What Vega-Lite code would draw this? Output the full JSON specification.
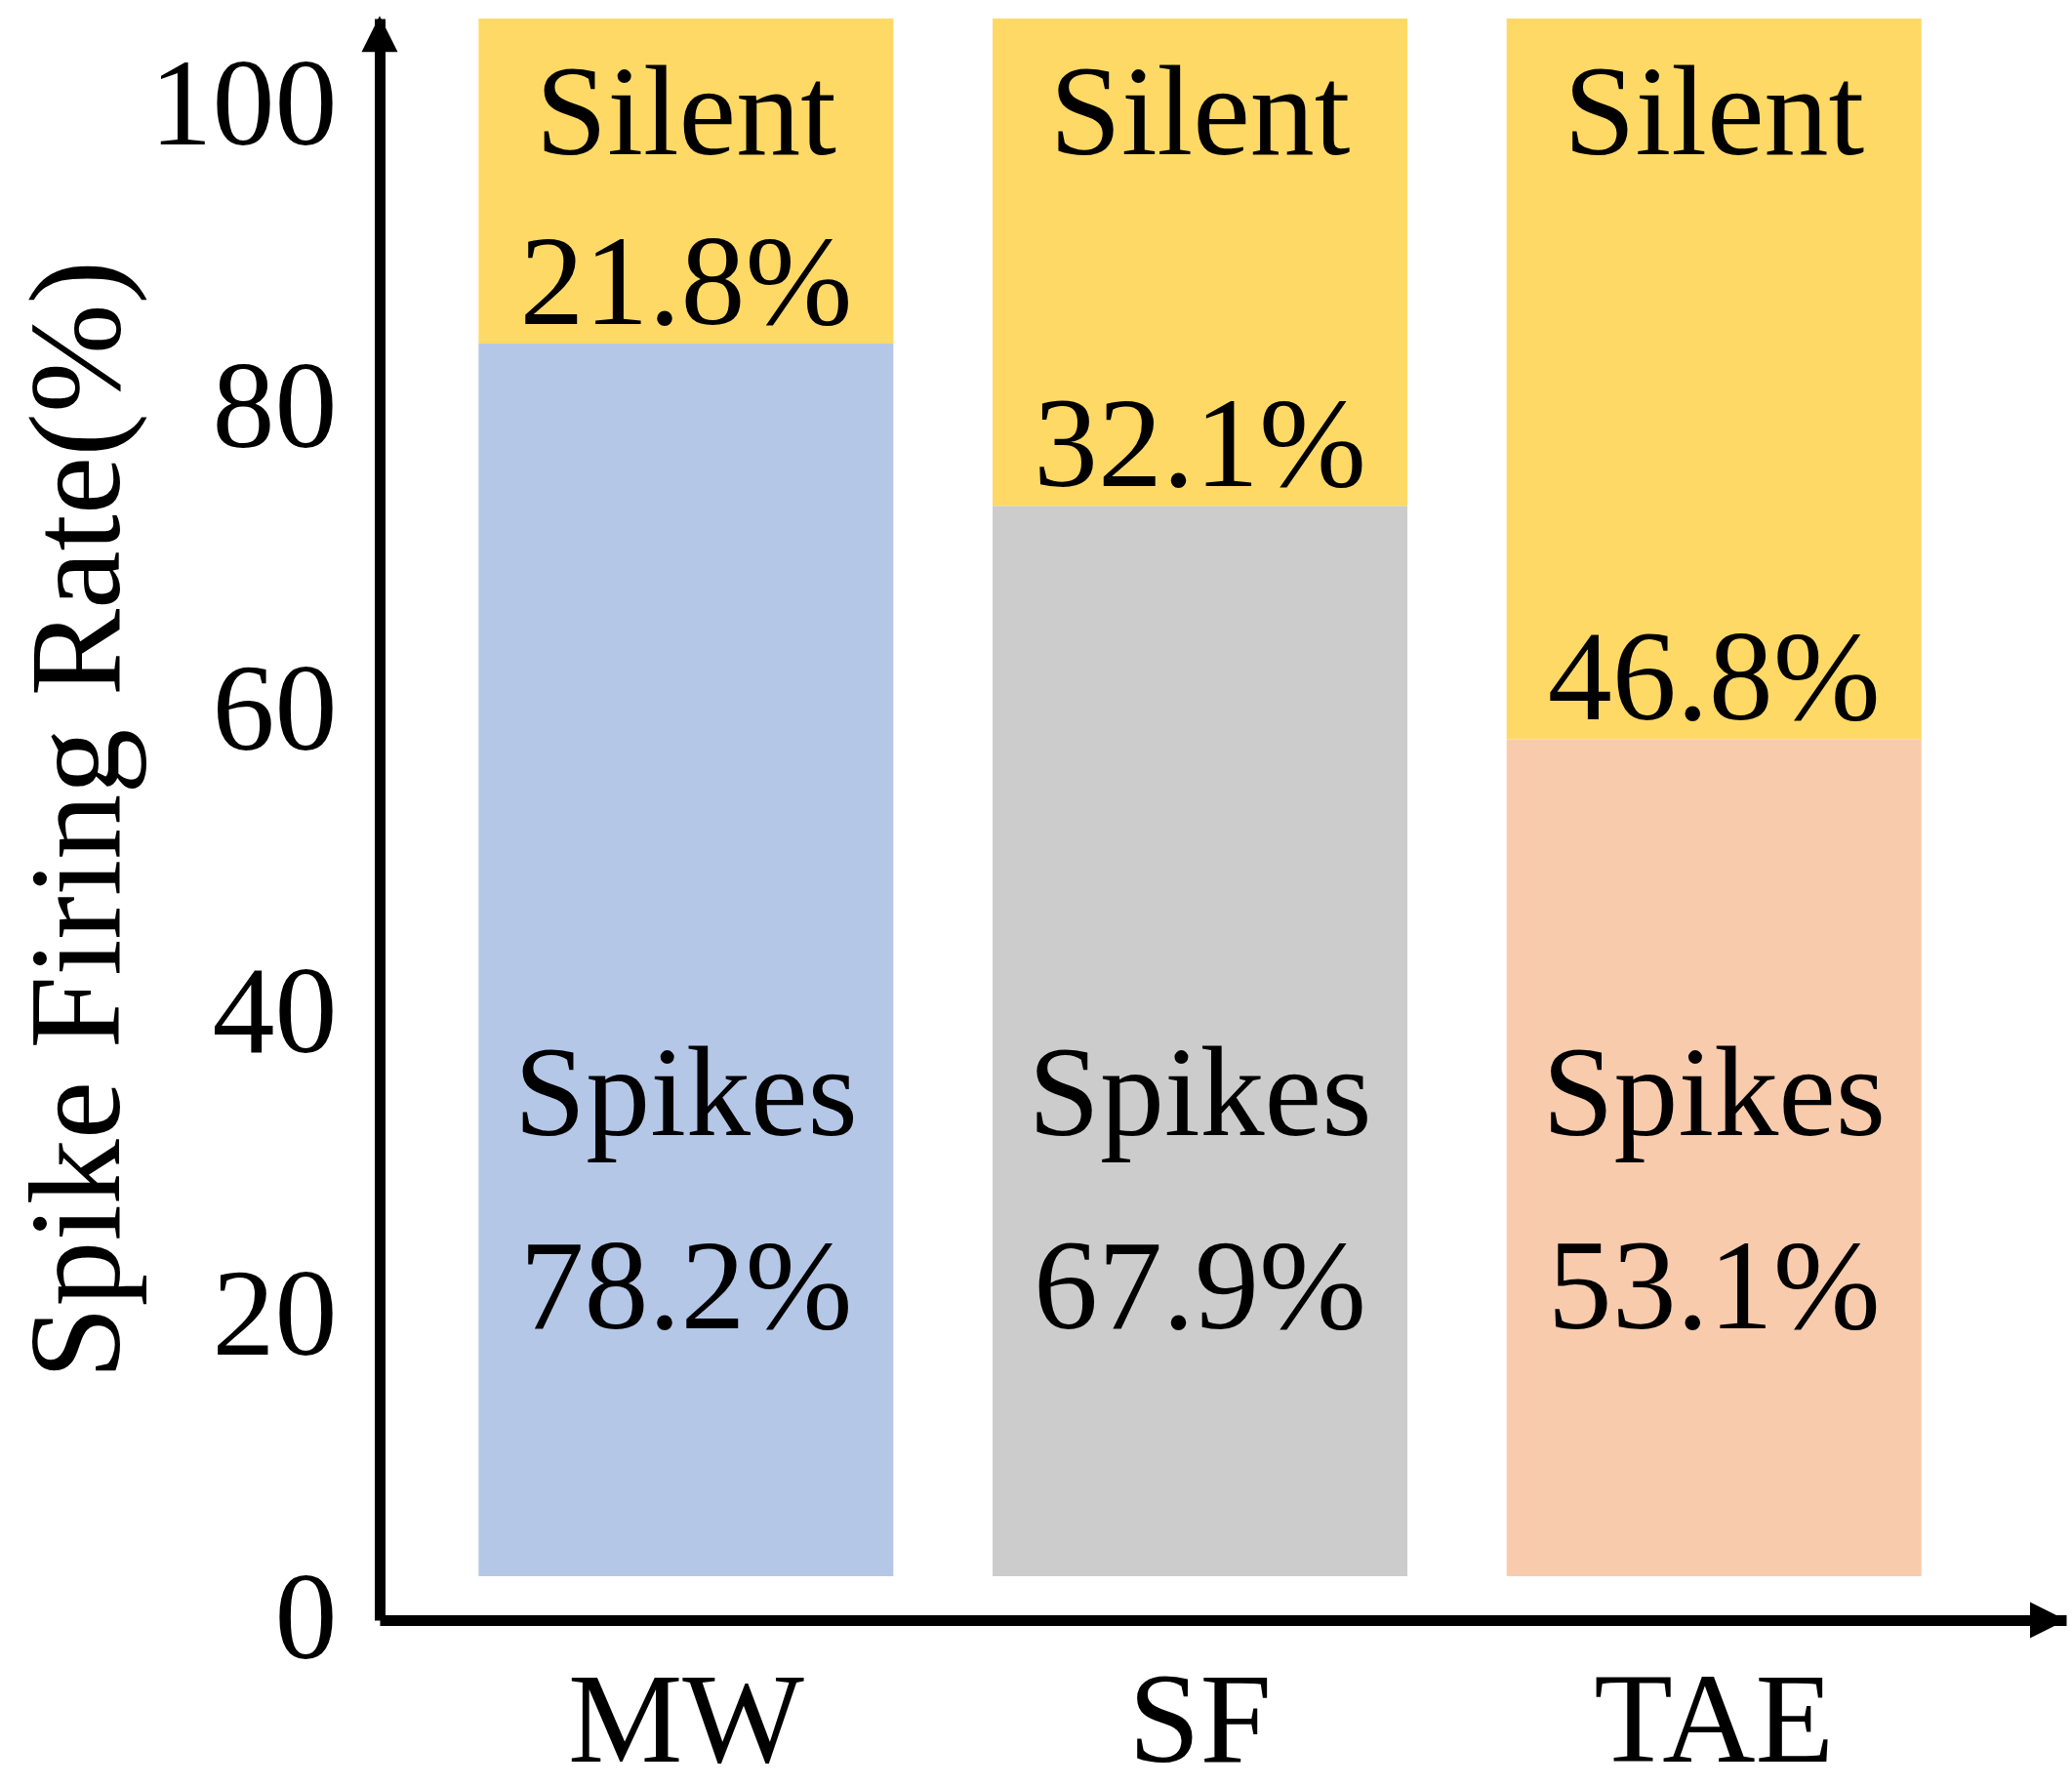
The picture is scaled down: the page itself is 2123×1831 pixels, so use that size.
{
  "$schema": "https://vega.github.io/schema/vega-lite/v6.json",
  "description": "Share of spiking vs silent neurons per method (stacked to 100%).",
  "width": 1728,
  "height": 1641,
  "autosize": {"type": "none"},
  "padding": {"left": 389, "top": 19, "right": 6, "bottom": 171},
  "background": "white",
  "config": {
    "view": {"stroke": null},
    "font": "Liberation Serif",
    "text": {"font": "Liberation Serif", "color": "black"}
  },
  "datasets": {
    "rates": [
      {"method": "MW", "part": "Spikes", "rate": 78.2},
      {"method": "MW", "part": "Silent", "rate": 21.8},
      {"method": "SF", "part": "Spikes", "rate": 67.9},
      {"method": "SF", "part": "Silent", "rate": 32.1},
      {"method": "TAE", "part": "Spikes", "rate": 53.1},
      {"method": "TAE", "part": "Silent", "rate": 46.8}
    ],
    "arrows": [{"axis": "y"}, {"axis": "x"}]
  },
  "layer": [
    {
      "data": {"name": "rates"},
      "transform": [
        {"stack": "rate", "groupby": ["method"], "sort": [{"field": "part", "order": "descending"}], "as": ["low", "high"]},
        {"calculate": "format(datum.rate, '.1f') + '%'", "as": "label"}
      ],
      "encoding": {
        "x": {
          "field": "method",
          "type": "nominal",
          "sort": ["MW", "SF", "TAE"],
          "scale": {"paddingInner": 0.193, "paddingOuter": 0.237, "align": 0.406},
          "axis": {
            "orient": "bottom",
            "title": null,
            "grid": false,
            "domain": true,
            "domainColor": "black",
            "domainWidth": 11,
            "ticks": false,
            "tickSize": 0,
            "labelAngle": 0,
            "labelFont": "Liberation Serif",
            "labelFontSize": 132,
            "labelColor": "black",
            "labelLimit": 600,
            "labelBaseline": "alphabetic",
            "labelPadding": 144
          }
        }
      },
      "layer": [
        {
          "mark": {"type": "bar", "clip": true},
          "encoding": {
            "y": {"field": "low", "type": "quantitative", "scale": {"domain": [-2.79, 98.82], "nice": false, "zero": false}, "axis": null},
            "y2": {"field": "high"},
            "color": {
              "condition": {"test": "datum.part === 'Silent'", "value": "#FFD966"},
              "field": "method",
              "type": "nominal",
              "scale": {"domain": ["MW", "SF", "TAE"], "range": ["#B4C7E7", "#CCCCCC", "#F8CBAD"]},
              "legend": null
            }
          }
        },
        {
          "transform": [{"filter": "datum.part === 'Silent'"}],
          "mark": {"type": "text", "baseline": "alphabetic", "fontSize": 132},
          "encoding": {
            "y": {"datum": 90.2, "type": "quantitative", "axis": null},
            "text": {"field": "part"}
          }
        },
        {
          "transform": [{"filter": "datum.part === 'Silent'"}],
          "mark": {"type": "text", "baseline": "alphabetic", "fontSize": 132, "dy": -20},
          "encoding": {
            "y": {"field": "low", "type": "quantitative", "axis": null},
            "text": {"field": "label"}
          }
        },
        {
          "transform": [{"filter": "datum.part === 'Spikes'"}],
          "mark": {"type": "text", "baseline": "alphabetic", "fontSize": 132},
          "encoding": {
            "y": {"datum": 28.0, "type": "quantitative", "axis": null},
            "text": {"field": "part"}
          }
        },
        {
          "transform": [{"filter": "datum.part === 'Spikes'"}],
          "mark": {"type": "text", "baseline": "alphabetic", "fontSize": 132},
          "encoding": {
            "y": {"datum": 15.7, "type": "quantitative", "axis": null},
            "text": {"field": "label"}
          }
        }
      ]
    },
    {
      "data": {"name": "arrows"},
      "layer": [
        {
          "transform": [{"filter": "datum.axis === 'y'"}],
          "mark": {"type": "point", "shape": "M0,-1L1,1L-1,1Z", "size": 1369, "filled": true, "color": "black", "opacity": 1, "strokeWidth": 0},
          "encoding": {
            "x": {"datum": 0, "type": "quantitative", "scale": {"domain": [0, 1], "nice": false, "zero": false}, "axis": null},
            "y": {
              "datum": 104.85,
              "type": "quantitative",
              "scale": {"domain": [0, 105.87], "nice": false, "zero": false},
              "axis": {
                "orient": "left",
                "values": [0, 20, 40, 60, 80, 100],
                "grid": false,
                "domain": true,
                "domainColor": "black",
                "domainWidth": 11,
                "ticks": false,
                "tickSize": 0,
                "labelFont": "Liberation Serif",
                "labelFontSize": 128,
                "labelColor": "black",
                "labelLimit": 600,
                "labelPadding": 44,
                "title": "Spike Firing Rate(%)",
                "titleFont": "Liberation Serif",
                "titleFontSize": 134,
                "titleFontWeight": "normal",
                "titleColor": "black",
                "titlePadding": 40
              }
            }
          }
        },
        {
          "transform": [{"filter": "datum.axis === 'x'"}],
          "mark": {"type": "point", "shape": "M1,0L-1,-1L-1,1Z", "size": 1369, "filled": true, "color": "black", "opacity": 1, "strokeWidth": 0},
          "encoding": {
            "x": {"datum": 0.9893, "type": "quantitative"},
            "y": {"datum": 0, "type": "quantitative"}
          }
        }
      ]
    }
  ],
  "resolve": {"scale": {"x": "independent", "y": "independent"}}
}
